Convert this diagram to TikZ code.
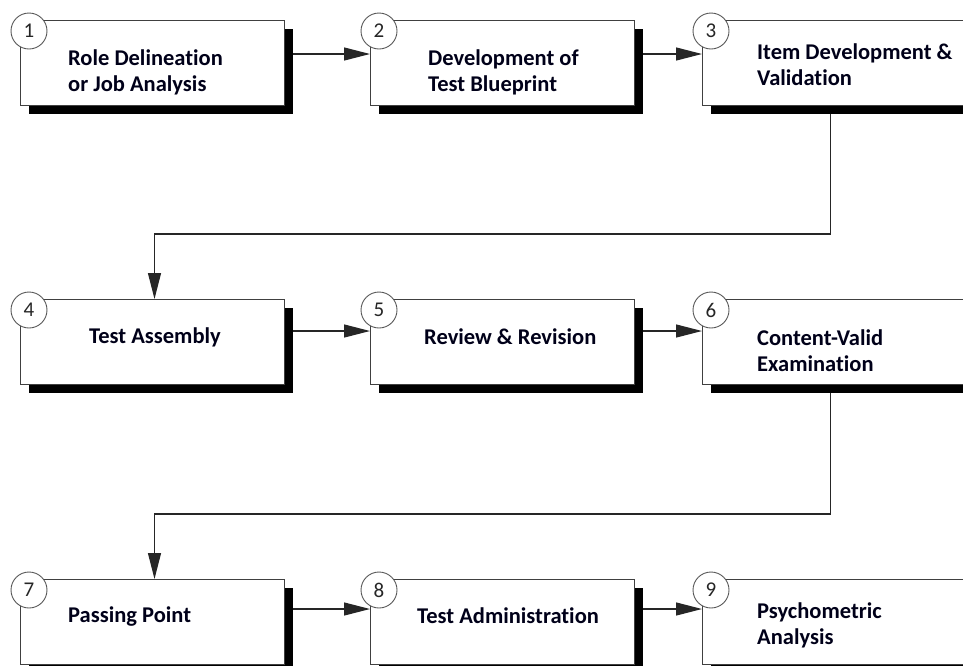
\documentclass[tikz,border=0pt]{standalone}
\usepackage{fontspec}
\setmainfont{Carlito}[Ligatures = NoCommon]
\usetikzlibrary{arrows.meta,shadows}

\tikzset{
  stepbox/.style = {draw = black!75, line width = 1pt, fill = white, anchor = north west,
    minimum width = 264pt, minimum height = 85pt, inner sep = 0pt,
    drop shadow = {shadow xshift = 8pt, shadow yshift = -8pt, fill = black, opacity = 1}},
  steptext/.style = {anchor = west, align = left, inner sep = 0pt,
    font = \fontsize{22.5}{26}\selectfont\bfseries, text = black!90!blue},
  stepnum/.style = {circle, draw = black!65, line width = 0.9pt, fill = white,
    minimum size = 36pt, inner sep = 0pt, font = \fontsize{21}{22}\selectfont, text = black!85},
  flow/.style = {draw = black!85, line width = 1.2pt, -{Triangle[length = 26pt, width = 13pt]}}
}

\begin{document}
\begin{tikzpicture}[x = 1pt, y = -1pt]

      \useasboundingbox[fill = white] (0, 0) rectangle (963, 665);

      % row 1
      \node[stepbox] (b1) at (20, 20) {};
      \node[stepbox] (b2) at (370, 20) {};
      \node[stepbox] (b3) at (702, 20) {};
      % row 2
      \node[stepbox] (b4) at (20, 299) {};
      \node[stepbox] (b5) at (370, 299) {};
      \node[stepbox] (b6) at (702, 299) {};
      % row 3
      \node[stepbox] (b7) at (20, 579) {};
      \node[stepbox] (b8) at (370, 579) {};
      \node[stepbox] (b9) at (702, 579) {};

      \node[steptext] (t1) at (68, 72) {Role Delineation\\or Job Analysis};
      \node[steptext] (t2) at (428, 72) {Development of\\Test Blueprint};
      \node[steptext] (t3) at (757, 65) {Item Development \&\\Validation};
      \node[steptext] (t4) at (89, 337) {Test Assembly};
      \node[steptext] (t5) at (424, 337) {Review \& Revision};
      \node[steptext] (t6) at (757, 351) {Content-Valid\\Examination};
      \node[steptext] (t7) at (68, 616) {Passing Point};
      \node[steptext] (t8) at (417, 616) {Test Administration};
      \node[steptext] (t9) at (757, 625) {Psychometric\\Analysis};

      \foreach \i in {1, ..., 9}
        \node[stepnum] (n\i) at ([xshift = 9pt, yshift = -11pt]b\i.north west) {\i};

      % horizontal flow
      \draw[flow] ([xshift = 8pt, yshift = -34pt]b1.north east) -- ([yshift = -34pt]b2.north west);
      \draw[flow] ([xshift = 8pt, yshift = -34pt]b2.north east) -- ([yshift = -34pt]b3.north west);
      \draw[flow] ([xshift = 8pt, yshift = -32pt]b4.north east) -- ([yshift = -32pt]b5.north west);
      \draw[flow] ([xshift = 8pt, yshift = -32pt]b5.north east) -- ([yshift = -32pt]b6.north west);
      \draw[flow] ([xshift = 8pt, yshift = -30pt]b7.north east) -- ([yshift = -30pt]b8.north west);
      \draw[flow] ([xshift = 8pt, yshift = -30pt]b8.north east) -- ([yshift = -30pt]b9.north west);

      % row change
      \draw[flow] ([xshift = -4pt, yshift = -8pt]b3.south) -- ++(0, 120) -| ([xshift = 2pt]b4.north);
      \draw[flow] ([xshift = -4pt, yshift = -8pt]b6.south) -- ++(0, 121) -| ([xshift = 2pt]b7.north);

\end{tikzpicture}
\end{document}
